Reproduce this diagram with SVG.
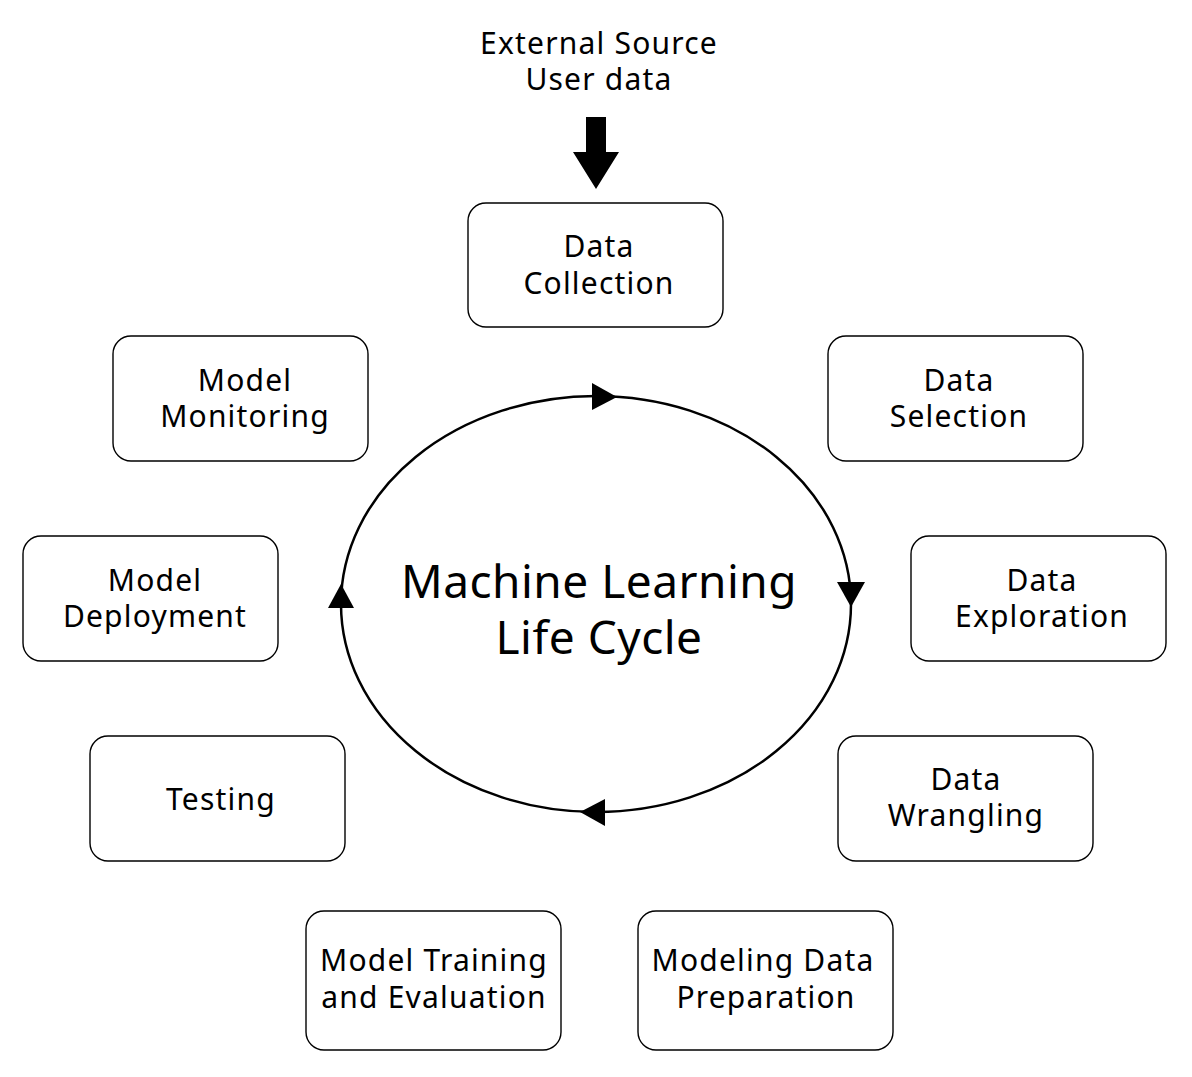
<svg xmlns="http://www.w3.org/2000/svg" width="1192" height="1077" viewBox="0 0 1192 1077">
<style>
.box{fill:#fff;stroke:#000;stroke-width:1.4}
.t{font-family:"Noto Sans","Liberation Sans",sans-serif;font-size:30px;letter-spacing:1.2px;fill:#000;text-anchor:middle}
.title{font-family:"Noto Sans","Liberation Sans",sans-serif;font-size:46px;letter-spacing:0.5px;fill:#000;text-anchor:middle}
.ah{fill:#000}
</style>
<rect width="1192" height="1077" fill="#fff"/>
<g id="source">
<text class="t" x="599" y="54">External Source</text>
<text class="t" x="599" y="90">User data</text>
</g>
<g id="connectors">
<polygon class="ah" points="586,117 606,117 606,152 619,152 596,189 573,152 586,152"/>
<ellipse cx="596" cy="604" rx="255" ry="208" fill="none" stroke="#000" stroke-width="2.5"/>
<polygon class="ah" points="592,383 617,397 592,410"/>
<polygon class="ah" points="837,582 865,582 851,607"/>
<polygon class="ah" points="605,799 605,826 580,812"/>
<polygon class="ah" points="328,608 354,608 341,584"/>
</g>
<g id="title">
<text class="title" x="599" y="598">Machine Learning</text>
<text class="title" x="599" y="654">Life Cycle</text>
</g>
<g id="data-collection"><rect class="box" x="468" y="203" width="255" height="124" rx="18"/><text class="t" x="599" y="257">Data</text><text class="t" x="599" y="294">Collection</text></g>
<g id="model-monitoring"><rect class="box" x="113" y="336" width="255" height="125" rx="18"/><text class="t" x="245" y="391">Model</text><text class="t" x="245" y="427">Monitoring</text></g>
<g id="data-selection"><rect class="box" x="828" y="336" width="255" height="125" rx="18"/><text class="t" x="959" y="391">Data</text><text class="t" x="959" y="427">Selection</text></g>
<g id="model-deployment"><rect class="box" x="23" y="536" width="255" height="125" rx="18"/><text class="t" x="155" y="591">Model</text><text class="t" x="155" y="627">Deployment</text></g>
<g id="data-exploration"><rect class="box" x="911" y="536" width="255" height="125" rx="18"/><text class="t" x="1042" y="591">Data</text><text class="t" x="1042" y="627">Exploration</text></g>
<g id="testing"><rect class="box" x="90" y="736" width="255" height="125" rx="18"/><text class="t" x="221" y="810">Testing</text></g>
<g id="data-wrangling"><rect class="box" x="838" y="736" width="255" height="125" rx="18"/><text class="t" x="966" y="790">Data</text><text class="t" x="966" y="826">Wrangling</text></g>
<g id="model-training"><rect class="box" x="306" y="911" width="255" height="139" rx="18"/><text class="t" x="434" y="971">Model Training</text><text class="t" x="434" y="1008">and Evaluation</text></g>
<g id="modeling-data-prep"><rect class="box" x="638" y="911" width="255" height="139" rx="18"/><text class="t" x="763" y="971">Modeling Data</text><text class="t" x="766" y="1008">Preparation</text></g>
</svg>
